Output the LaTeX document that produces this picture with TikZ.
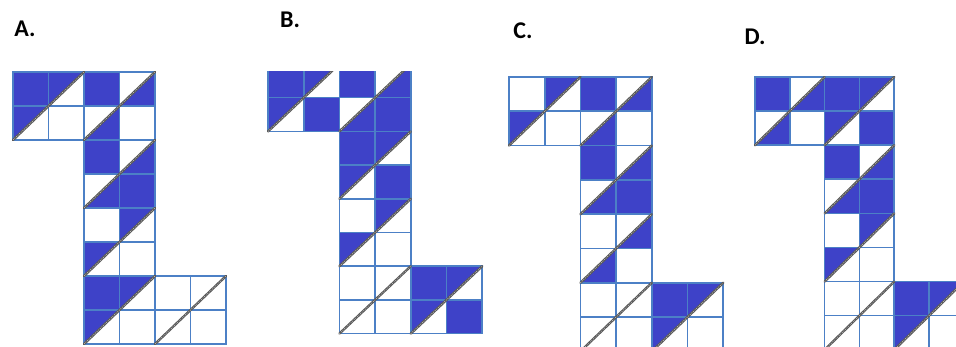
\documentclass[tikz,border=0pt]{standalone}
\usepackage{fontspec}
\setmainfont{Carlito}
\definecolor{faceblue}{RGB}{62,66,200}
\definecolor{gridblue}{RGB}{76,128,198}
\tikzset{
  facefill/.style={fill=faceblue},
  gridline/.style={draw=gridblue, line width=1.6pt},
  diag/.style={draw=black!65, line width=2.4pt, line cap=round},
  diagdots/.style={draw=white!80!black, line width=0.5pt, dash pattern=on 1pt off 1.2pt},
  lab/.style={font=\bfseries\fontsize{24}{26}\selectfont, inner sep=0pt}
}
\newcommand{\netface}[5]{% 2x2 face with top-left cell at (#1,#2)
  % #3: top-left cell blue, #4: bottom-right cell blue,
  % #5: 0 = no half cells, 1 = halves above the diagonal, 2 = halves below it
  \ifnum#3=1 \fill[facefill] (#1,#2) rectangle ++(1,1); \fi
  \ifnum#4=1 \fill[facefill] (#1+1,#2+1) rectangle ++(1,1); \fi
  \ifcase#5
  \or
    \fill[facefill] (#1+1,#2) -- (#1+2,#2) -- (#1+1,#2+1) -- cycle;
    \fill[facefill] (#1,#2+1) -- (#1+1,#2+1) -- (#1,#2+2) -- cycle;
  \or
    \fill[facefill] (#1+2,#2) -- (#1+2,#2+1) -- (#1+1,#2+1) -- cycle;
    \fill[facefill] (#1+1,#2+1) -- (#1+1,#2+2) -- (#1,#2+2) -- cycle;
  \fi
}
\newcommand{\netoutline}{% cell grid and fold diagonals of the six faces
  \foreach \c/\r in {0/0,2/0,2/2,2/4,2/6,4/6}{
    \foreach \i in {0,1} \foreach \j in {0,1}
      \draw[gridline] (\c+\i,\r+\j) rectangle ++(1,1);
  }
  \foreach \c/\r in {0/0,2/0,2/2,2/4,2/6,4/6}{
    \draw[diag] (\c,\r+2) -- (\c+2,\r);
    \draw[diagdots] (\c,\r+2) -- (\c+2,\r);
  }
}

\begin{document}
\begin{tikzpicture}[x=1pt,y=-1pt]
  \useasboundingbox (0,0) rectangle (956,347);
  % option A
  \node[lab] (labA) at (25,29) {A.};
  \begin{scope}[shift={(13,72)}, x=35.5pt, y=-34pt]
    \netface{0}{0}{1}{0}{1} \netface{2}{0}{1}{0}{2} \netface{2}{2}{1}{1}{2}
    \netface{2}{4}{0}{0}{1} \netface{2}{6}{1}{0}{1} \netface{4}{6}{0}{0}{0}
    \netoutline
  \end{scope}
  % option B (top row cut off in the original)
  \node[lab] (labB) at (290,20) {B.};
  \begin{scope}
    \clip (0,72) rectangle (956,347);
    \begin{scope}[shift={(268,64)}, x=35.7pt, y=-33.7pt]
      \netface{0}{0}{1}{1}{1} \netface{2}{0}{1}{1}{2} \netface{2}{2}{1}{1}{1}
      \netface{2}{4}{0}{0}{1} \netface{2}{6}{0}{0}{0} \netface{4}{6}{1}{1}{1}
      \netoutline
    \end{scope}
  \end{scope}
  % option C
  \node[lab] (labC) at (523,31) {C.};
  \begin{scope}[shift={(509,77)}, x=35.7pt, y=-34.3pt]
    \netface{0}{0}{0}{0}{1} \netface{2}{0}{1}{0}{2} \netface{2}{2}{1}{1}{2}
    \netface{2}{4}{0}{0}{2} \netface{2}{6}{0}{0}{0} \netface{4}{6}{1}{0}{1}
    \netoutline
  \end{scope}
  % option D
  \node[lab] (labD) at (755,37) {D.};
  \begin{scope}[shift={(755,77)}, x=34.8pt, y=-34.1pt]
    \netface{0}{0}{1}{0}{2} \netface{2}{0}{1}{1}{1} \netface{2}{2}{1}{1}{2}
    \netface{2}{4}{0}{0}{1} \netface{2}{6}{0}{0}{0} \netface{4}{6}{1}{0}{1}
    \netoutline
  \end{scope}
\end{tikzpicture}
\end{document}
